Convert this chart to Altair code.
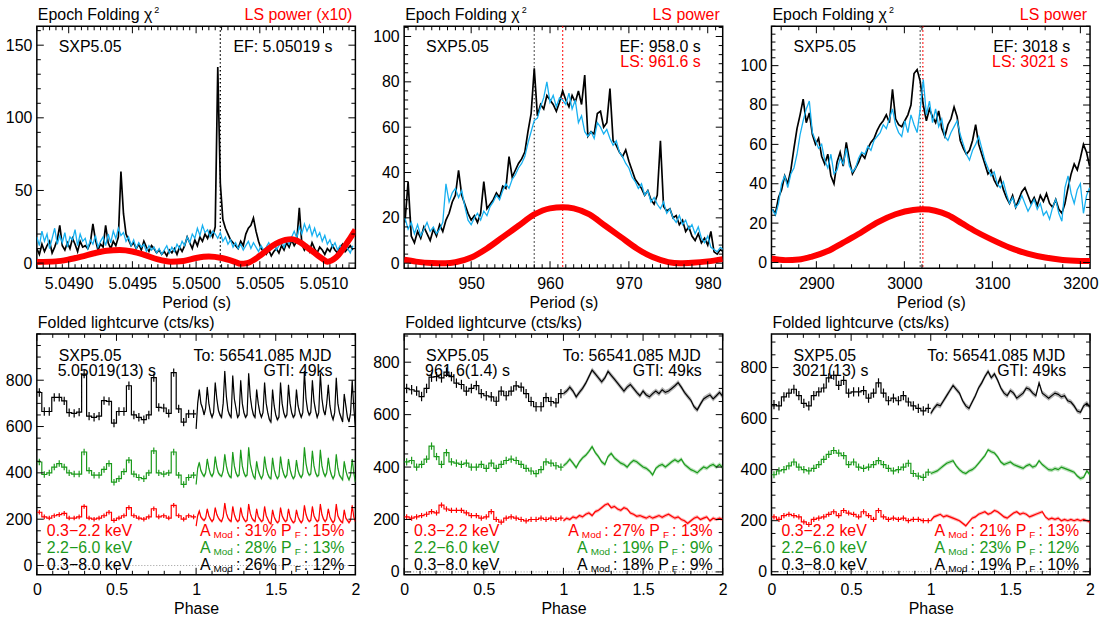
import altair as alt
import numpy as np
import pandas as pd

FONT = "Liberation Sans"
K = "#000000"
BLUE = "#17b0f0"
RED = "#ff0000"
GREEN = "#1b9a1b"
W = 320
HT = 243
HB = 242

# ---------------- top-left periodogram (SXP5.05, 5 s range) ----------------
TL_P0, TL_DP = 5.04875, 0.00002
TL_EF = [10, 6, 13, 8, 12, 15, 7, 11, 16, 26,
         12, 9, 14, 10, 17, 13, 8, 15, 11, 12,
         10, 14, 27, 16, 9, 13, 11, 26, 14, 10,
         15, 12, 18, 63, 34, 20, 16, 12, 14, 10,
         13, 9, 15, 11, 8, 12, 10, 7, 9, 6,
         8, 5, 9, 7, 10, 6, 11, 8, 12, 18,
         14, 10, 16, 12, 18, 15, 20, 17, 22, 18,
         25, 135, 55, 30, 24, 20, 16, 14, 12, 10,
         15, 12, 20, 24, 26, 31, 22, 15, 10, 8,
         6, 9, 5, 8, 10, 7, 12, 9, 14, 11,
         16, 12, 15, 38, 13, 9, 12, 8, 14, 10,
         7, 11, 9, 6, 10, 8, 12, 9, 7, 11,
         13, 8, 10, 12, 9]
TL_EF2 = [18, 12, 22, 15, 20, 10, 17, 24, 13, 19,
          14, 21, 11, 18, 16, 23, 12, 20, 15, 17,
          10, 16, 13, 19, 11, 15, 18, 12, 20, 14,
          22, 17, 24, 19, 21, 15, 18, 12, 16, 10,
          14, 11, 13, 8, 12, 9, 11, 7, 10, 6,
          9, 12, 7, 11, 8, 13, 10, 15, 12, 18,
          14, 20, 17, 24, 19, 26, 21, 23, 18, 22,
          20, 17, 21, 15, 18, 13, 16, 11, 14, 10,
          13, 9, 12, 15, 10, 14, 11, 8, 12, 9,
          11, 14, 10, 13, 9, 12, 15, 11, 16, 13,
          18, 22, 17, 25, 20, 27, 22, 26, 19, 24,
          18, 21, 15, 19, 13, 16, 11, 14, 9, 12,
          8, 13, 10, 7, 12]
TL_LS_P = [5.04875, 5.0489, 5.0490, 5.0491, 5.0492, 5.0493, 5.0494, 5.0495, 5.0496,
           5.0497, 5.0498, 5.0499, 5.0500, 5.0501, 5.0502, 5.0503, 5.05035, 5.0504,
           5.0505, 5.0506, 5.0507, 5.05075, 5.0508, 5.0509, 5.0510, 5.05103, 5.0511,
           5.0512, 5.05125]
TL_LS = [0.8, 1.2, 2.5, 4.5, 6.8, 8.5, 9.0, 8.0, 5.5,
         2.5, 1.0, 1.5, 3.5, 4.5, 3.5, 1.0, -0.5, 0.0,
         5.0, 12.0, 16.0, 16.5, 15.0, 9.0, 2.5, 1.0, 4.0,
         16.0, 23.0]

# ---------------- top-middle periodogram (960 s range) ----------------
TM_P0, TM_DP = 941.6, 0.4
TM_EF = [18, 36, 12, 9, 14, 11, 16, 13, 10, 15,
         12, 17, 14, 19, 22, 27, 30, 41, 30, 26,
         22, 19, 21, 18, 22, 36, 24, 26, 28, 31,
         29, 34, 33, 47, 38, 41, 44, 46, 49, 58,
         66, 86, 65, 70, 68, 74, 72, 70, 67, 71,
         76, 72, 69, 74, 71, 76, 70, 83, 56, 58,
         57, 66, 67, 60, 62, 77, 54, 52, 49, 47,
         50, 45, 41, 37, 35, 33, 30, 32, 28, 26,
         30, 54, 25, 23, 24, 20, 21, 17, 19, 14,
         16, 12, 10, 13, 9, 11, 8, 14, 5, 4,
         6, 5]
TM_EF2 = [20, 15, 18, 13, 17, 12, 15, 18, 14, 16,
          13, 15, 18, 35, 27, 31, 33, 29, 32, 25,
          19, 17, 20, 22, 19, 23, 21, 25, 27, 30,
          28, 32, 35, 33, 37, 39, 42, 44, 47, 53,
          58, 63, 64, 69, 73, 80, 71, 74, 69, 73,
          72, 70, 75, 68, 72, 62, 65, 58, 56, 58,
          55, 62, 60, 57, 59, 55, 52, 54, 49, 47,
          44, 42, 38, 36, 33, 35, 30, 32, 27, 29,
          26, 24, 27, 22, 24, 20, 18, 21, 17, 19,
          15, 17, 13, 16, 11, 9, 12, 7, 6, 5,
          7, 6]
TM_LS_P = [941.5, 943, 945, 946.7, 948, 950, 952, 954, 956, 958, 960, 961.6,
           963, 965, 967, 969, 971, 973, 975, 976.5, 978, 980, 981.9]
TM_LS = [1.5, 0.7, 0.1, 0.0, 0.4, 2.5, 6.5, 11.5, 16.5, 21.5, 24.2, 24.7,
         24.2, 21.5, 16.5, 11.5, 6.5, 2.7, 0.5, 0.0, 0.2, 0.8, 1.8]

# ---------------- top-right periodogram (3000 s range) ----------------
TR_P0, TR_DP = 2850.0, 3.5
TR_EF = [27, 25, 33, 37, 44, 40, 47, 58, 68, 75,
         83, 71, 76, 65, 60, 63, 54, 50, 55, 44,
         40, 51, 56, 49, 61, 52, 45, 48, 51, 55,
         53, 58, 61, 63, 67, 70, 72, 75, 71, 88,
         73, 70, 69, 72, 75, 80, 96, 98, 92, 80,
         72, 78, 74, 71, 77, 68, 64, 70, 73, 79,
         74, 62, 58, 55, 57, 62, 70, 60, 55, 50,
         45, 47, 42, 39, 43, 37, 33, 30, 34, 28,
         32, 36, 38, 34, 30, 33, 29, 34, 31, 35,
         30, 28, 32, 27, 25, 30, 38, 45, 50, 47,
         53, 60, 56, 49]
TR_EF2 = [27, 24, 30, 40, 44, 38, 45, 48, 55, 65,
          72, 78, 82, 66, 62, 58, 60, 52, 48, 55,
          45, 47, 53, 50, 58, 49, 46, 48, 53, 56,
          55, 59, 57, 62, 64, 66, 70, 68, 73, 78,
          70, 66, 64, 72, 66, 75, 70, 66, 78, 93,
          75, 82, 71, 78, 69, 73, 64, 62, 66, 69,
          72, 65, 60, 55, 52, 57, 60, 64, 58, 52,
          48, 44, 46, 40, 38, 41, 35, 30, 33, 28,
          30, 34, 30, 26, 29, 32, 27, 30, 24, 26,
          22, 28, 32, 25, 21, 38, 44, 35, 30, 37,
          40, 25, 34, 38]
TR_LS_P = [2849, 2865, 2880, 2895, 2913, 2930, 2950, 2970, 2990, 3010, 3021,
           3035, 3050, 3065, 3080, 3100, 3120, 3140, 3160, 3180, 3200, 3211]
TR_LS = [2.0, 1.2, 1.5, 3.0, 5.8, 10.0, 15.0, 20.5, 24.5, 26.7, 27.0,
         26.3, 24.0, 20.0, 16.0, 11.5, 7.5, 4.5, 2.5, 1.3, 0.8, 0.7]

# ---------------- folded light curves: phase 0-1 bins (32), phase 1-2 fine ----------------
BL_BINS_K = [747, 665, 665, 726, 726, 711, 660, 657, 662, 826, 645, 640, 645, 712, 709, 615,
             665, 665, 776, 650, 640, 630, 650, 811, 683, 680, 657, 833, 676, 619, 655, 655]
BL_BINS_G = [447, 393, 400, 425, 440, 425, 400, 395, 395, 490, 410, 390, 390, 415, 440, 360,
             375, 405, 455, 395, 380, 375, 400, 495, 400, 395, 400, 490, 390, 350, 380, 390]
BL_BINS_R = [230, 210, 205, 215, 220, 225, 205, 205, 210, 255, 205, 200, 205, 215, 230, 195,
             205, 215, 250, 215, 205, 200, 210, 245, 210, 215, 205, 260, 215, 200, 215, 210]
BL_FINE_K = [590, 700, 760, 700, 680, 650, 680, 770, 700, 660,
             640, 660, 790, 720, 670, 650, 640, 700, 840, 730,
             670, 650, 640, 820, 720, 680, 640, 650, 800, 700,
             660, 640, 650, 830, 730, 680, 650, 640, 760, 700,
             660, 640, 660, 790, 700, 660, 630, 620, 760, 690,
             650, 630, 640, 790, 700, 660, 640, 650, 780, 700,
             660, 640, 650, 760, 690, 660, 640, 660, 840, 720,
             670, 650, 660, 800, 710, 670, 640, 660, 830, 720,
             670, 650, 700, 780, 690, 650, 630, 660, 810, 700,
             660, 640, 620, 740, 690, 640, 620, 660, 800, 680,
             600]
BL_FINE_G = [350, 420, 445, 410, 395, 385, 400, 460, 420, 395,
             385, 400, 470, 425, 400, 390, 385, 410, 480, 430,
             400, 385, 380, 490, 430, 400, 385, 390, 500, 430,
             400, 385, 390, 510, 440, 410, 385, 375, 450, 410,
             390, 375, 390, 470, 420, 395, 380, 375, 465, 415,
             390, 375, 385, 470, 420, 395, 380, 390, 460, 415,
             390, 375, 385, 455, 410, 390, 380, 395, 510, 440,
             405, 390, 395, 495, 430, 400, 385, 390, 500, 430,
             400, 385, 400, 465, 415, 390, 375, 390, 480, 420,
             390, 380, 370, 450, 410, 385, 370, 390, 460, 400,
             360]
BL_FINE_R = [170, 215, 235, 210, 200, 195, 205, 245, 215, 200,
             190, 200, 250, 220, 205, 195, 190, 210, 270, 225,
             205, 195, 190, 255, 220, 200, 190, 195, 250, 215,
             200, 190, 195, 265, 225, 205, 195, 190, 245, 210,
             200, 190, 195, 255, 215, 200, 185, 180, 240, 210,
             195, 185, 190, 250, 215, 200, 190, 195, 245, 210,
             195, 185, 190, 240, 210, 195, 185, 195, 260, 220,
             200, 190, 195, 255, 215, 200, 190, 195, 265, 220,
             200, 190, 200, 245, 210, 195, 185, 195, 265, 215,
             200, 190, 185, 240, 205, 195, 185, 195, 260, 210,
             190]

BM_BINS_K = [700, 695, 690, 669, 700, 743, 745, 740, 762, 745, 720, 715, 690, 700, 711, 680,
             672, 668, 651, 690, 672, 690, 710, 705, 680, 650, 630, 630, 665, 650, 645, 680]
BM_BINS_G = [420, 425, 400, 410, 430, 480, 440, 410, 455, 420, 415, 410, 415, 400, 400, 410,
             395, 415, 395, 410, 425, 430, 425, 410, 395, 385, 375, 390, 420, 415, 405, 400]
BM_BINS_R = [210, 205, 210, 215, 220, 230, 225, 255, 240, 235, 235, 235, 225, 215, 215, 205,
             210, 230, 200, 190, 205, 210, 205, 200, 195, 200, 200, 205, 200, 205, 200, 205]
BM_FINE_K = [680, 690, 705, 690, 668, 685, 700, 720, 745, 770, 755, 740, 725, 740, 765, 750,
             735, 720, 705, 690, 705, 715, 700, 685, 672, 690, 675, 668, 680, 690, 680, 695,
             685, 690, 700, 710, 722, 705, 685, 670, 655, 630, 618, 640, 660, 668, 675, 660,
             672, 685, 670]
BM_FINE_G = [405, 415, 430, 415, 398, 420, 435, 445, 460, 478, 455, 440, 420, 410, 440, 452,
             435, 425, 415, 410, 400, 415, 425, 420, 410, 400, 395, 385, 370, 395, 405, 410,
             400, 410, 420, 428, 420, 430, 410, 400, 390, 385, 378, 390, 400, 395, 405, 410,
             400, 410, 398]
BM_FINE_R = [195, 205, 200, 210, 205, 215, 210, 220, 225, 215, 230, 235, 245, 255, 260, 245,
             250, 240, 235, 245, 240, 225, 220, 212, 215, 210, 205, 212, 205, 210, 215, 208,
             215, 220, 212, 205, 210, 200, 195, 185, 195, 205, 210, 200, 205, 210, 195, 205,
             200, 205, 200]

BR_BINS_K = [655, 650, 685, 700, 715, 690, 660, 650, 690, 705, 720, 760, 770, 730, 750, 700,
             705, 705, 710, 680, 700, 740, 700, 670, 680, 670, 690, 665, 650, 640, 630, 640]
BR_BINS_G = [380, 395, 400, 415, 430, 410, 400, 395, 405, 420, 440, 460, 475, 465, 455, 420,
             430, 410, 405, 410, 420, 435, 420, 405, 395, 400, 410, 425, 385, 375, 370, 390]
BR_BINS_R = [215, 205, 220, 225, 220, 215, 195, 185, 205, 210, 215, 225, 235, 220, 240, 230,
             225, 215, 235, 220, 205, 240, 215, 205, 210, 205, 210, 200, 205, 205, 200, 200]
BR_FINE_K = [620, 640, 655, 650, 670, 690, 710, 730, 715, 700, 670, 650, 640, 665, 690, 720,
             740, 765, 785, 760, 775, 750, 720, 700, 690, 710, 700, 680, 690, 700, 720, 715,
             700, 690, 740, 700, 690, 680, 690, 700, 695, 685, 690, 670, 665, 650, 630, 625,
             650, 660, 645]
BR_FINE_G = [385, 390, 395, 405, 415, 425, 430, 435, 415, 400, 390, 385, 395, 400, 410, 425,
             440, 455, 478, 470, 465, 450, 430, 420, 425, 430, 420, 415, 410, 405, 415, 420,
             410, 415, 435, 420, 410, 400, 398, 405, 400, 410, 405, 400, 395, 390, 375, 365,
             370, 395, 380]
BR_FINE_R = [200, 215, 220, 225, 215, 220, 215, 210, 205, 200, 190, 180, 195, 210, 215, 225,
             230, 235, 225, 230, 240, 235, 225, 215, 210, 220, 230, 235, 225, 230, 225, 215,
             220, 225, 230, 235, 215, 205, 210, 205, 210, 200, 205, 200, 205, 200, 205, 200,
             205, 200, 195]

# error sizes (counts/ks): [binned errors], [fine errors] for black, green, red
BIN_ERR = [18, 14, 10]
FINE_ERR = [10, 8, 7]

# ---------------- helpers ----------------
CW = {'0': .556, '1': .556, '2': .556, '3': .556, '4': .556, '5': .556, '6': .556,
      '7': .556, '8': .556, '9': .556, '%': .889, ':': .278, ' ': .278, '.': .278,
      'A': .667, 'P': .667, 'M': .833, 'o': .556, 'd': .556, 'F': .611}


def tw(s, size):
    return sum(CW.get(c, .556) for c in s) * size


def txt(s, x, y, color=K, size=16, align="left"):
    return alt.Chart(alt.Data(values=[{}])).mark_text(
        text=s, color=color, fontSize=size, font=FONT, align=align, baseline="alphabetic"
    ).encode(x=alt.value(x), y=alt.value(y))


def make_xy(xdom, ydom, xvals, yvals, xfmt, xtitle):
    xs = alt.Scale(domain=xdom, nice=False, zero=False)
    ys = alt.Scale(domain=ydom, nice=False, zero=False)
    xa = alt.Axis(values=xvals, format=xfmt, ticks=False, domain=False, grid=False,
                  labelFontSize=16, labelPadding=7, labelFlush=False, labelOverlap=False,
                  labelColor=K, labelFont=FONT, title=xtitle, titleFontSize=16,
                  titleFontWeight="normal", titlePadding=3, titleColor=K, titleFont=FONT)
    ya = alt.Axis(values=yvals, format="d", ticks=False, domain=False, grid=False,
                  labelFontSize=16, labelPadding=5, labelFlush=False, labelOverlap=False,
                  labelColor=K, labelFont=FONT, title="")

    def X(f):
        return alt.X(f, type="quantitative", scale=xs, axis=xa)

    def Y(f):
        return alt.Y(f, type="quantitative", scale=ys, axis=ya)
    return X, Y


def minors(lo, hi, step, majors):
    n0 = int(np.ceil(lo / step - 1e-9))
    n1 = int(np.floor(hi / step + 1e-9))
    out = []
    for n in range(n0, n1 + 1):
        v = n * step
        if all(abs(v - m) > step * 0.01 for m in majors):
            out.append(round(v, 8))
    return out


def tick_layers(X, Y, xmaj, xmin, ymaj, ymin, H, LM=7, Lm=4):
    out = []
    for vals, L in ((xmaj, LM), (xmin, Lm)):
        r = alt.Chart(pd.DataFrame({"t": vals})).mark_rule(color=K, strokeWidth=1)
        out.append(r.encode(x=X("t"), y=alt.value(H), y2=alt.value(H - L)))
        out.append(r.encode(x=X("t"), y=alt.value(0), y2=alt.value(L)))
    for vals, L in ((ymaj, LM), (ymin, Lm)):
        r = alt.Chart(pd.DataFrame({"t": vals})).mark_rule(color=K, strokeWidth=1)
        out.append(r.encode(y=Y("t"), x=alt.value(0), x2=alt.value(L)))
        out.append(r.encode(y=Y("t"), x=alt.value(W), x2=alt.value(W - L)))
    return out


def series(p0, dp, vals):
    return pd.DataFrame({"x": [p0 + dp * i for i in range(len(vals))], "y": vals})


def top_panel(xdom, ydom, xmaj, xstep, ymaj, ystep, xfmt, p0, dp, ef, ef2, lsp, ls,
              vlines, right_title, notes):
    X, Y = make_xy(xdom, ydom, xmaj, ymaj, xfmt, "Period (s)")
    layers = []
    for p, c in vlines:
        layers.append(alt.Chart(pd.DataFrame({"p": [p]})).mark_rule(
            color=c, strokeWidth=1.3, strokeDash=[1.5, 2.5]).encode(
            x=X("p"), y=alt.value(0), y2=alt.value(HT)))
    layers.append(alt.Chart(series(p0, dp, ef)).mark_line(
        color=K, strokeWidth=1.7, clip=True).encode(x=X("x"), y=Y("y")))
    layers.append(alt.Chart(series(p0, dp, ef2)).mark_line(
        color=BLUE, strokeWidth=1.3, clip=True).encode(x=X("x"), y=Y("y")))
    layers.append(alt.Chart(pd.DataFrame({"x": lsp, "y": ls})).mark_line(
        color=RED, strokeWidth=6, interpolate="monotone", clip=True).encode(x=X("x"), y=Y("y")))
    layers += tick_layers(X, Y, xmaj, minors(xdom[0], xdom[1], xstep, xmaj),
                          ymaj, minors(ydom[0], ydom[1], ystep, ymaj), HT)
    layers.append(txt("Epoch Folding \u03c7", 1, -6))
    layers.append(txt("2", 118, -13, size=9))
    layers.append(txt(right_title, W - 3, -6, RED, align="right"))
    layers.append(txt("SXP5.05", 22, 26))
    for s, y, c, rm in notes:
        layers.append(txt(s, W - rm, y, c, align="right"))
    return alt.layer(*layers).properties(width=W, height=HT)


def stat_line(layers, xr, yb, amod, pf, color):
    gap = 3
    sub = 2
    x = xr
    last = ": %d%%" % pf
    layers.append(txt(last, x, yb, color, align="right"))
    x -= tw(last, 16) + gap
    layers.append(txt("F", x, yb + sub, color, size=10, align="right"))
    x -= tw("F", 10) + gap
    layers.append(txt("P", x, yb, color, align="right"))
    x -= tw("P", 16) + tw(" ", 16)
    mid = ": %d%%" % amod
    layers.append(txt(mid, x, yb, color, align="right"))
    x -= tw(mid, 16) + gap
    layers.append(txt("Mod", x, yb + sub, color, size=10, align="right"))
    x -= tw("Mod", 10) + gap
    layers.append(txt("A", x, yb, color, align="right"))


def lc_layers(X, Y, bins, fine, err, ferr, color):
    n = len(bins)
    step_df = pd.DataFrame({"x": [k / n for k in range(n)] + [1.0], "y": bins + [bins[-1]]})
    cen = pd.DataFrame({"x": [(k + 0.5) / n for k in range(n)],
                        "lo": [v - err for v in bins], "hi": [v + err for v in bins]})
    m = len(fine)
    fdf = pd.DataFrame({"x": [1 + i / (m - 1) for i in range(m)], "y": fine,
                        "lo": [v - ferr for v in fine], "hi": [v + ferr for v in fine]})
    return [
        alt.Chart(fdf).mark_area(color=color, opacity=0.3, clip=True).encode(
            x=X("x"), y=Y("lo"), y2=alt.Y2("hi")),
        alt.Chart(step_df).mark_line(color=color, strokeWidth=1.2, interpolate="step-after",
                                     clip=True).encode(x=X("x"), y=Y("y")),
        alt.Chart(cen).mark_rule(color=color, strokeWidth=1.2).encode(
            x=X("x"), y=Y("lo"), y2=alt.Y2("hi")),
        alt.Chart(fdf).mark_line(color=color, strokeWidth=1.2, clip=True).encode(
            x=X("x"), y=Y("y")),
    ]


def bottom_panel(ydom, bk, bg, br, fk, fg, fr, period_txt, stats, rm, rm_to):
    xmaj = [0, 0.5, 1, 1.5, 2]
    ymaj = [0, 200, 400, 600, 800]
    X, Y = make_xy([0, 2], ydom, xmaj, ymaj, ".1~f", "Phase")
    layers = [alt.Chart(pd.DataFrame({"v": [0]})).mark_rule(
        color="#999999", strokeWidth=1, strokeDash=[1, 2]).encode(
        y=Y("v"), x=alt.value(0), x2=alt.value(W))]
    layers += lc_layers(X, Y, br, fr, BIN_ERR[2], FINE_ERR[2], RED)
    layers += lc_layers(X, Y, bg, fg, BIN_ERR[1], FINE_ERR[1], GREEN)
    layers += lc_layers(X, Y, bk, fk, BIN_ERR[0], FINE_ERR[0], K)
    layers += tick_layers(X, Y, xmaj, minors(0, 2, 0.1, xmaj),
                          ymaj, minors(ydom[0], ydom[1], 50, ymaj), HB)
    layers.append(txt("Folded lightcurve (cts/ks)", 1, -6))
    layers.append(txt("SXP5.05", 22, 27))
    layers.append(txt(period_txt, 21, 42))
    layers.append(txt("To: 56541.085 MJD", W - rm_to, 27, align="right"))
    layers.append(txt("GTI: 49ks", W - rm_to + 1, 42, align="right"))
    bands = [("0.3\u22122.2 keV", RED), ("2.2\u22126.0 keV", GREEN), ("0.3\u22128.0 keV", K)]
    ybs = [HB - 39, HB - 21.5, HB - 4.7]
    for (lab, c), yb, (a, p) in zip(bands, ybs, stats):
        layers.append(txt(lab, 10, yb, c))
        stat_line(layers, W - rm, yb, a, p, c)
    return alt.layer(*layers).properties(width=W, height=HB)


TL = top_panel([5.04875, 5.05125], [-3.5, 163], [5.049, 5.0495, 5.05, 5.0505, 5.051], 0.00005,
               [0, 50, 100, 150], 10, ".4f", TL_P0, TL_DP, TL_EF, TL_EF2, TL_LS_P, TL_LS,
               [(5.05019, K)], "LS power (x10)", [("EF: 5.05019 s", 26, K, 23)])
TM = top_panel([941.5, 981.9], [-2.2, 104.5], [950, 960, 970, 980], 1,
               [0, 20, 40, 60, 80, 100], 4, "d", TM_P0, TM_DP, TM_EF, TM_EF2, TM_LS_P, TM_LS,
               [(958.0, "#444444"), (961.6, RED)], "LS power",
               [("EF: 958.0 s", 26, K, 22), ("LS: 961.6 s", 41, RED, 22)])
TR = top_panel([2849, 3211], [-2.9, 120], [2900, 3000, 3100, 3200], 20,
               [0, 20, 40, 60, 80, 100], 4, "d", TR_P0, TR_DP, TR_EF, TR_EF2, TR_LS_P, TR_LS,
               [(3018, "#444444"), (3021, RED)], "LS power",
               [("EF: 3018 s", 26, K, 20), ("LS: 3021 s", 41, RED, 22)])

BL = bottom_panel([-40, 1000], BL_BINS_K, BL_BINS_G, BL_BINS_R, BL_FINE_K, BL_FINE_G, BL_FINE_R,
                  "5.05019(13) s", [(31, 15), (28, 13), (26, 12)], 11, 24)
BM = bottom_panel([-11, 908], BM_BINS_K, BM_BINS_G, BM_BINS_R, BM_FINE_K, BM_FINE_G, BM_FINE_R,
                  "961.6(1.4) s", [(27, 13), (19, 9), (18, 9)], 10, 22)
BR = bottom_panel([-12, 932], BR_BINS_K, BR_BINS_G, BR_BINS_R, BR_FINE_K, BR_FINE_G, BR_FINE_R,
                  "3021(13) s", [(21, 13), (23, 12), (19, 10)], 11, 25)

chart = alt.concat(TL, TM, TR, BL, BM, BR, columns=3,
                   spacing={"row": 66, "column": 49}, bounds="flush").properties(
    padding={"left": 4, "top": 4, "right": 0, "bottom": 0}
).configure_view(stroke=K, strokeWidth=1.5)

chart.save("out.html", embed_options={"renderer": "svg", "actions": False})
